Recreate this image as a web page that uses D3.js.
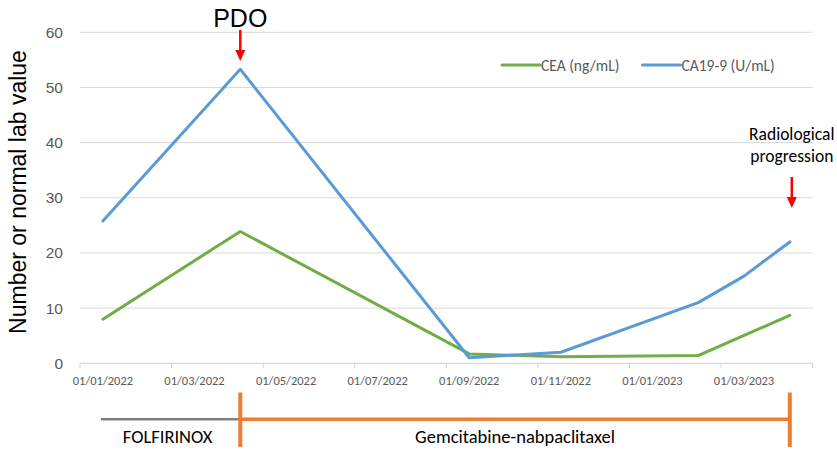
<!DOCTYPE html>
<html>
<head>
<meta charset="utf-8">
<script src="https://cdn.jsdelivr.net/npm/d3@7"></script>
<style>
  html, body { margin: 0; padding: 0; background: #fff; }
  svg { display: block; }
</style>
</head>
<body>
<svg id="chart" width="837" height="453"></svg>
<script>
// Monthly axis slots (base unit: month)
const months = ["2022-01","2022-02","2022-03","2022-04","2022-05","2022-06","2022-07","2022-08",
                "2022-09","2022-10","2022-11","2022-12","2023-01","2023-02","2023-03","2023-04"];
// Sampling months and lab values
const sampleMonths = ["2022-01","2022-04","2022-09","2022-11","2023-02","2023-03","2023-04"];
const ceaValues    = [8.0, 23.9, 1.7, 1.2, 1.4, null, 8.7];
const ca199Values  = [25.8, 53.3, 1.0, 2.0, 11.0, 15.8, 22.0];
const yTicks = [0, 10, 20, 30, 40, 50, 60];
const seriesNames = ["CEA (ng/mL)", "CA19-9 (U/mL)"];
// Treatment lines
const treatmentNames  = ["FOLFIRINOX", "Gemcitabine-nabpaclitaxel"];
const treatmentStarts = ["2022-01", "2022-04"];
const treatmentEnds   = ["2022-04", "2023-04"];
// Event markers
const eventLabels = [["PDO"], ["Radiological", "progression"]];
const eventMonths = ["2022-04", "2023-04"];

const svg = d3.select("#chart");
const font = "Carlito, Calibri, Lato, sans-serif";
const arial = "'Liberation Sans', Arial, sans-serif";
const grey = "#595959";

const x = d3.scaleBand().domain(months).range([80, 812.7]).padding(0);
const cx = m => x(m) + x.bandwidth() / 2;
const y = d3.scaleLinear().domain([0, 60]).range([363.3, 32.3]);

// Horizontal gridlines
svg.append("g").selectAll("line").data(yTicks.filter(v => v > 0)).join("line")
  .attr("x1", 80).attr("x2", 812.7)
  .attr("y1", d => y(d)).attr("y2", d => y(d))
  .attr("stroke", "#d9d9d9").attr("stroke-width", 1);

// Y axis labels
const yAxis = svg.append("g").attr("transform", "translate(80,0)")
  .call(d3.axisLeft(y).tickValues(yTicks).tickSize(0).tickPadding(17));
yAxis.select(".domain").remove();
yAxis.selectAll("text").attr("fill", grey)
  .style("font-family", arial).style("font-size", "15.5px");

// X axis: ticks at slot edges every two months, labels centred in the slot
const xAxisG = svg.append("g");
xAxisG.append("line").attr("x1", 80).attr("x2", 812.7)
  .attr("y1", y(0)).attr("y2", y(0)).attr("stroke", "#d0d0d0").attr("stroke-width", 1);
const edgeIdx = d3.range(0, months.length + 1, 2);
xAxisG.selectAll("line.tick").data(edgeIdx).join("line").attr("class", "tick")
  .attr("x1", i => 80 + i * x.bandwidth()).attr("x2", i => 80 + i * x.bandwidth())
  .attr("y1", y(0)).attr("y2", y(0) + 5).attr("stroke", "#d0d0d0");
const fmt = m => { const [yy, mm] = m.split("-"); return "01/" + mm + "/" + yy; };
xAxisG.selectAll("text").data(months.filter((m, i) => i % 2 === 0)).join("text")
  .attr("x", d => cx(d)).attr("y", 384.5)
  .attr("text-anchor", "middle").attr("fill", grey)
  .style("font-family", font).style("font-size", "12.5px")
  .text(fmt);

// Y axis title
svg.append("text")
  .attr("transform", "translate(26,192) rotate(-90)")
  .attr("text-anchor", "middle").attr("fill", "#000")
  .style("font-family", arial).style("font-size", "23px")
  .text("Number or normal lab value");

// Series lines
const colors = ["#70AD47", "#5B9BD5"];
const seriesValues = [ceaValues, ca199Values];
const line = d3.line().x(d => cx(d.m)).y(d => y(d.v));
seriesValues.forEach((vals, k) => {
  const pts = sampleMonths.map((m, i) => ({ m, v: vals[i] })).filter(d => d.v !== null);
  svg.append("path").datum(pts).attr("d", line)
    .attr("fill", "none").attr("stroke", colors[k]).attr("stroke-width", 3)
    .attr("stroke-linejoin", "round").attr("stroke-linecap", "round");
});

// Legend
const legendX = [502, 642.5];
seriesNames.forEach((name, k) => {
  const g = svg.append("g").attr("transform", `translate(${legendX[k]},65)`);
  g.append("line").attr("x1", 0).attr("x2", 38).attr("y1", 0).attr("y2", 0)
    .attr("stroke", colors[k]).attr("stroke-width", 3).attr("stroke-linecap", "round");
  g.append("text").attr("x", 39).attr("y", 5.5).attr("fill", grey)
    .style("font-family", font).style("font-size", "15.5px").text(name);
});

// Event annotations with red arrows
const red = "#FF0000";
function arrow(xc, y1, y2) {
  svg.append("line").attr("x1", xc).attr("x2", xc).attr("y1", y1).attr("y2", y2 - 9)
    .attr("stroke", red).attr("stroke-width", 2.5);
  svg.append("path")
    .attr("d", `M${xc - 5},${y2 - 11} L${xc + 5},${y2 - 11} L${xc},${y2} Z`)
    .attr("fill", red);
}
// PDO
svg.append("text").attr("x", cx(eventMonths[0])).attr("y", 27)
  .attr("text-anchor", "middle").attr("fill", "#000")
  .style("font-family", arial).style("font-size", "25px")
  .text(eventLabels[0][0]);
arrow(cx(eventMonths[0]), 30, 61);
// Radiological progression
const rp = svg.append("text").attr("text-anchor", "middle").attr("fill", "#000")
  .style("font-family", font).style("font-size", "17.5px");
eventLabels[1].forEach((t, i) => {
  rp.append("tspan").attr("x", cx(eventMonths[1]) + 2).attr("y", 139.5 + i * 22.7).text(t);
});
arrow(cx(eventMonths[1]) + 2, 177, 208);

// Treatment timeline
const barY = 419.3;
const treatColors = ["#808080", "#ED7D31"];
treatmentNames.forEach((name, k) => {
  const xs = cx(treatmentStarts[k]), xe = cx(treatmentEnds[k]);
  svg.append("line").attr("x1", k === 0 ? xs - 2 : xs).attr("x2", xe)
    .attr("y1", barY).attr("y2", barY)
    .attr("stroke", treatColors[k]).attr("stroke-width", k === 0 ? 2.5 : 3.5);
  svg.append("text").attr("x", (xs + xe) / 2 + (k === 0 ? -4 : 0)).attr("y", 442.5)
    .attr("text-anchor", "middle").attr("fill", "#000")
    .style("font-family", font).style("font-size", "18.5px").text(name);
});
// Orange boundary bars at start and end of the second line
[treatmentStarts[1], treatmentEnds[1]].forEach(m => {
  svg.append("line").attr("x1", cx(m)).attr("x2", cx(m))
    .attr("y1", 392.5).attr("y2", 447)
    .attr("stroke", "#ED7D31").attr("stroke-width", 4);
});
</script>
</body>
</html>
